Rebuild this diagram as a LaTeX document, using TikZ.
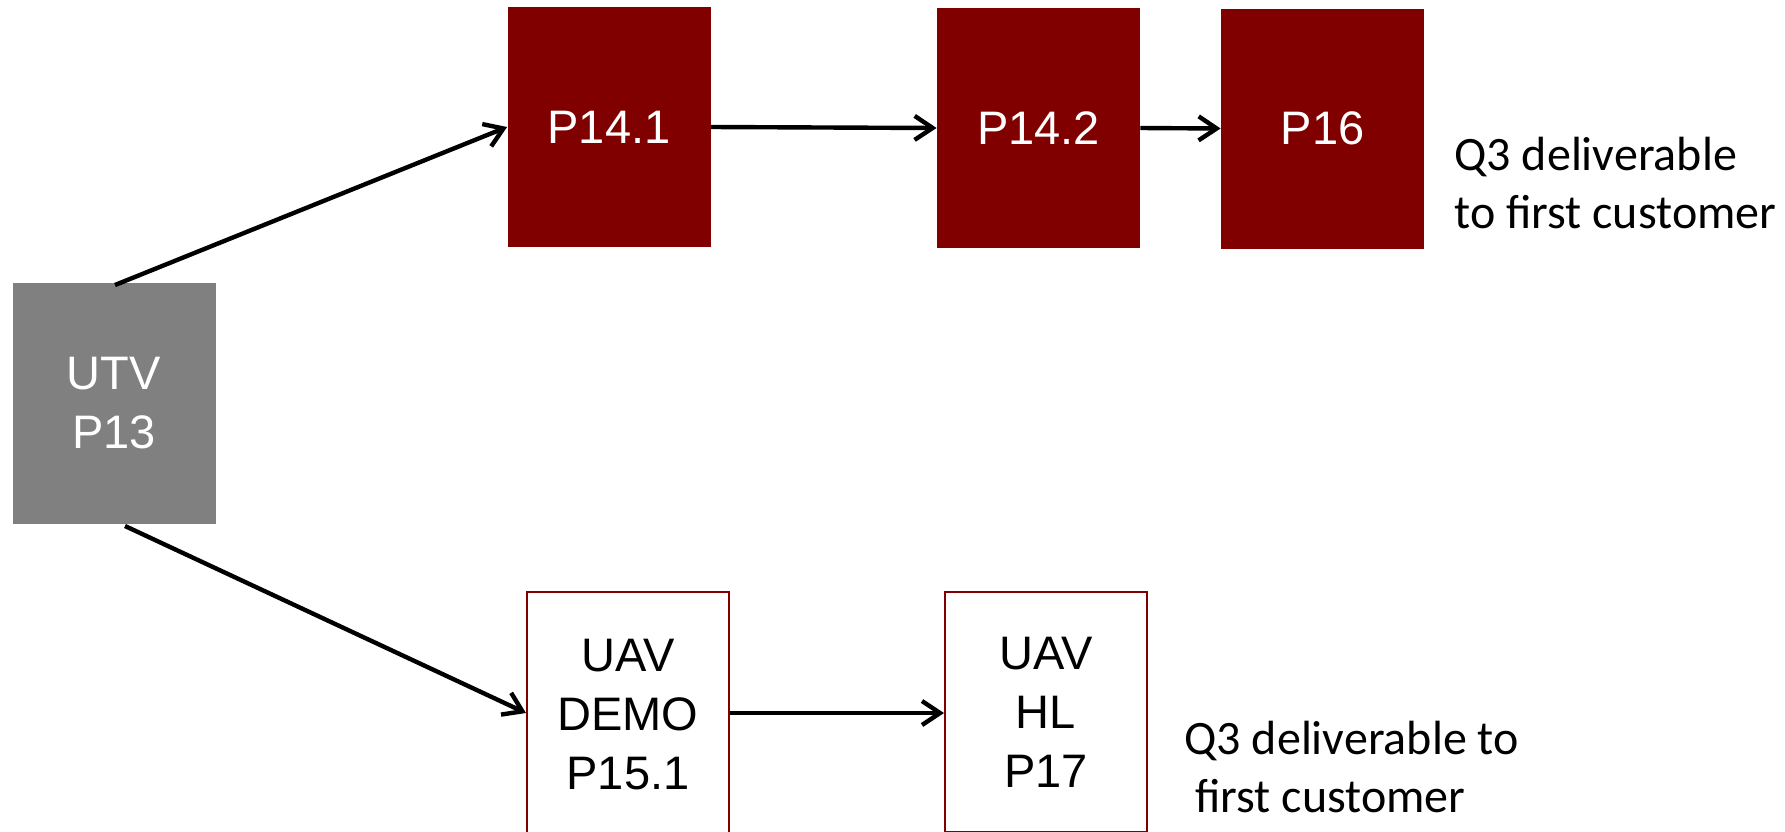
\documentclass[tikz,border=0pt]{standalone}
\usepackage{fontspec}
\setmainfont{Liberation Sans}
\newfontfamily\calib{Carlito}
\usetikzlibrary{arrows.meta}
\definecolor{maroon}{RGB}{128,0,0}
\definecolor{boxgray}{RGB}{128,128,128}
\begin{document}
\begin{tikzpicture}[x=0.5pt,y=-0.5pt,
  base/.style={rectangle,inner sep=0pt,align=center,font=\fontsize{23.5}{29.5}\selectfont},
  filled/.style={base,fill=maroon,text=white,minimum width=101.5pt,minimum height=120pt},
  grayb/.style={base,fill=boxgray,text=white,minimum width=101.5pt,minimum height=120.5pt},
  outl/.style={base,draw=maroon,line width=1pt,fill=white,text=black,minimum width=101pt,minimum height=120pt},
  note/.style={align=left,anchor=north west,inner sep=0pt,font=\calib\fontsize{24}{29}\selectfont},
  conn/.style={line width=2.2pt,-{Straight Barb[length=9pt,width=12pt,line width=2.2pt]}}]
\useasboundingbox (0,0) rectangle (1785,831);
\node[grayb] (utv) at (114,403) {UTV\\P13};
\node[filled] (p141) at (609,127) {P14.1};
\node[filled] (p142) at (1038.5,128) {P14.2};
\node[filled] (p16) at (1322.5,128.5) {P16};
\node[outl,minimum height=123pt] (demo) at (628,715) {UAV\\DEMO\\P15.1};
\node[outl] (hl) at (1046,712) {UAV\\HL\\P17};
\coordinate (utvtop) at (115,285);
\coordinate (utvbot) at (125,526);
\draw[conn] (utvtop) -- (p141.west);
\draw[conn] (p141.east) -- (p142.west);
\draw[conn] (p142.east) -- (p16.west);
\draw[conn] (utvbot) -- (demo.west |- 0,713);
\draw[conn] (demo.east |- 0,713) -- (hl.west |- 0,713);
\node[note] (q1) at (1454,137) {Q3 deliverable\\to first customer};
\node[note] (q2) at (1184,721) {Q3 deliverable to\\\ first customer};
\end{tikzpicture}
\end{document}
